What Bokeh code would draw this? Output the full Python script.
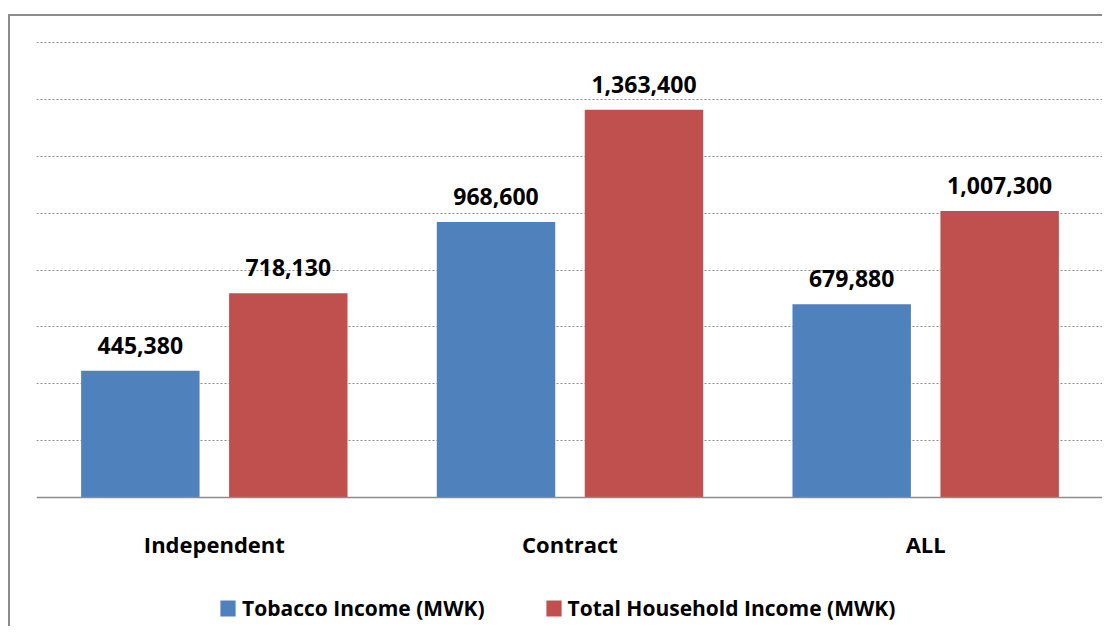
from bokeh.plotting import figure
from bokeh.models import (ColumnDataSource, LabelSet, Legend, LegendItem,
                          FactorRange, Range1d, FixedTicker)
from bokeh.transform import dodge
from bokeh.embed import file_html
from bokeh.resources import INLINE
from bokeh.core.properties import value

categories = ["Independent", "Contract", "ALL"]
tobacco_income = [445380, 968600, 679880]
household_income = [718130, 1363400, 1007300]
series_names = ["Tobacco Income (MWK)", "Total Household Income (MWK)"]
y_max = 1600000
grid_step = 200000

BLUE = "#4F81BD"
RED = "#C0504D"
GRAY = "#8c8c8c"
FONT = "Open Sans"

src = ColumnDataSource(dict(
    cat=categories,
    tob=tobacco_income,
    hh=household_income,
    tob_lbl=[f"{v:,}" for v in tobacco_income],
    hh_lbl=[f"{v:,}" for v in household_income],
))

# frame extends below the zero line to host axis labels and legend,
# and 1px above the top gridline so that it stays visible
below_zero = y_max * 131 / 455
above_top = y_max * 456 / 455

p = figure(x_range=FactorRange(*categories, range_padding=0),
           y_range=Range1d(-below_zero, above_top),
           width=1094, height=612,
           output_backend="svg", toolbar_location=None,
           min_border_left=26, min_border_right=1,
           min_border_top=25, min_border_bottom=0)
p.outline_line_color = None
p.styles = {"border-left": f"2px solid {GRAY}", "border-top": f"2px solid {GRAY}",
            "margin-top": "14px", "margin-left": "8px"}

r1 = p.vbar(x=dodge("cat", -0.208, range=p.x_range), top="tob", width=0.333,
            source=src, fill_color=BLUE, line_color=None)
r2 = p.vbar(x=dodge("cat", 0.208, range=p.x_range), top="hh", width=0.333,
            source=src, fill_color=RED, line_color=None)

common = dict(text_align="center", text_baseline="alphabetic", y_offset=17,
              text_font=value(FONT), text_font_style="bold",
              text_font_size="23px", text_color="#000000", source=src)
p.add_layout(LabelSet(x=dodge("cat", -0.208, range=p.x_range), y="tob",
                      text="tob_lbl", **common))
p.add_layout(LabelSet(x=dodge("cat", 0.208, range=p.x_range), y="hh",
                      text="hh_lbl", **common))

p.yaxis.visible = False
p.xgrid.grid_line_color = None
p.ygrid.ticker = FixedTicker(ticks=list(range(grid_step, y_max + 1, grid_step)))
p.ygrid.grid_line_color = GRAY
p.ygrid.grid_line_dash = "2 2"
p.ygrid.grid_line_width = 1

p.xaxis.fixed_location = 0
p.xaxis.axis_line_color = GRAY
p.xaxis.axis_line_width = 1.5
p.xaxis.major_tick_line_color = None
p.xaxis.minor_tick_line_color = None
p.xaxis.major_label_standoff = 25
p.xaxis.major_label_text_font = FONT
p.xaxis.major_label_text_font_style = "bold"
p.xaxis.major_label_text_font_size = "22px"
p.xaxis.major_label_text_color = "#000000"

legend = Legend(items=[LegendItem(label=series_names[0], renderers=[r1]),
                       LegendItem(label=series_names[1], renderers=[r2])],
                orientation="horizontal", location=(182, 6),
                border_line_color=None, background_fill_alpha=0,
                padding=0, margin=0, glyph_width=19, glyph_height=20,
                label_standoff=5, spacing=59,
                label_text_font=FONT, label_text_font_style="bold",
                label_text_font_size="21px", label_text_color="#000000")
p.add_layout(legend)

open("out.html", "w").write(file_html(p, INLINE))
